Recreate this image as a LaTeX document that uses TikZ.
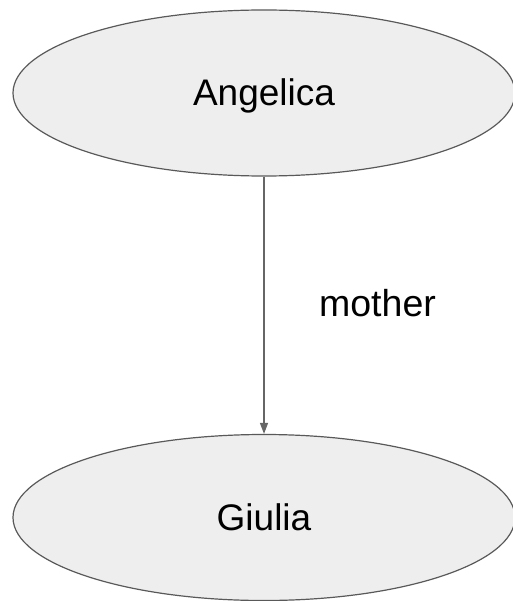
\documentclass[tikz,border=0pt]{standalone}
\usepackage{fontspec}
\setmainfont{Liberation Sans}
\usetikzlibrary{shapes.geometric,arrows.meta}
\definecolor{nodefill}{HTML}{EEEEEE}
\definecolor{nodeline}{HTML}{595959}
\definecolor{edgeline}{HTML}{666666}
\begin{document}
\begin{tikzpicture}[x=1pt,y=-1pt,
  person/.style={ellipse, draw=nodeline, fill=nodefill, line width=1.2pt,
    inner sep=0pt, minimum width=502pt, minimum height=166pt,
    font=\fontsize{37}{42}\selectfont, text height=26pt, text depth=0pt},
  rel/.style={draw=edgeline, line width=1.3pt, -{Triangle[length=11pt,width=8pt]}},
  lbl/.style={font=\fontsize{37.5}{42}\selectfont, inner sep=0pt, anchor=base}]
\useasboundingbox (0,0) rectangle (512,601);
\node[person] (A) at (264,93) {Angelica};
\node[person] (G) at (264,517.5) {Giulia};
\draw[rel] (A) -- (G);
\node[lbl] (m) at (377.5,316) {mother};
\end{tikzpicture}
\end{document}
